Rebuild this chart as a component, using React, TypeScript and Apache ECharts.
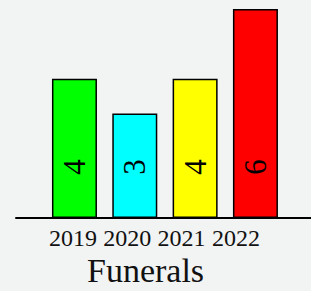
import React, { useEffect, useRef } from "react";
import * as echarts from "echarts";

const categories = ["2019", "2020", "2021", "2022"];
const values = [4, 3, 4, 6];
const barColors = ["#00ff00", "#00ffff", "#ffff00", "#ff0000"];
const chartTitle = "Funerals";

const SERIF = "Liberation Serif, Times New Roman, serif";

export default function App() {
  const ref = useRef<HTMLDivElement>(null);
  useEffect(() => {
    document.body.style.margin = "0";
    const chart = echarts.init(ref.current!, null, { renderer: "svg" });
    chart.setOption({
      animation: false,
      backgroundColor: "#f2f3f3",
      textStyle: { fontFamily: SERIF },
      title: {
        text: chartTitle,
        left: 87,
        top: 253,
        padding: 0,
        textStyle: { fontFamily: SERIF, fontSize: 34, fontWeight: "normal", color: "#111" },
      },
      grid: [
        { left: 44.3, width: 241.3, top: 9, height: 209 },
        { left: 45.8, width: 217.3, top: 9, height: 209 },
        { left: 16, right: 0, top: 9, height: 209 },
      ],
      xAxis: [
        {
          type: "category",
          gridIndex: 0,
          data: categories,
          axisLine: { show: false },
          axisTick: { show: false },
          axisLabel: { show: false },
        },
        {
          type: "category",
          gridIndex: 1,
          data: categories,
          axisLine: { show: false },
          axisTick: { show: false },
          axisLabel: { interval: 0, fontFamily: SERIF, fontSize: 24, color: "#111", margin: 8 },
        },
        {
          type: "category",
          gridIndex: 2,
          data: [""],
          axisLine: { show: true, lineStyle: { color: "#000", width: 2 } },
          axisTick: { show: false },
          axisLabel: { show: false },
        },
      ],
      yAxis: [
        { type: "value", gridIndex: 0, min: 0, max: 6, show: false },
        { type: "value", gridIndex: 1, min: 0, max: 6, show: false },
        { type: "value", gridIndex: 2, min: 0, max: 6, show: false },
      ],
      series: [
        {
          type: "bar",
          xAxisIndex: 0,
          yAxisIndex: 0,
          barWidth: 45,
          data: values.map((v, i) => ({
            value: v,
            itemStyle: { color: barColors[i] },
          })),
          itemStyle: { borderColor: "#000", borderWidth: 1.5 },
          label: {
            show: true,
            position: "insideBottom",
            distance: 51,
            rotate: 90,
            align: "center",
            verticalAlign: "middle",
            fontFamily: SERIF,
            fontSize: 31,
            color: "#000",
          },
        },
      ],
    });
    return () => chart.dispose();
  }, []);
  return <div ref={ref} style={{ width: 311, height: 291 }} />;
}
